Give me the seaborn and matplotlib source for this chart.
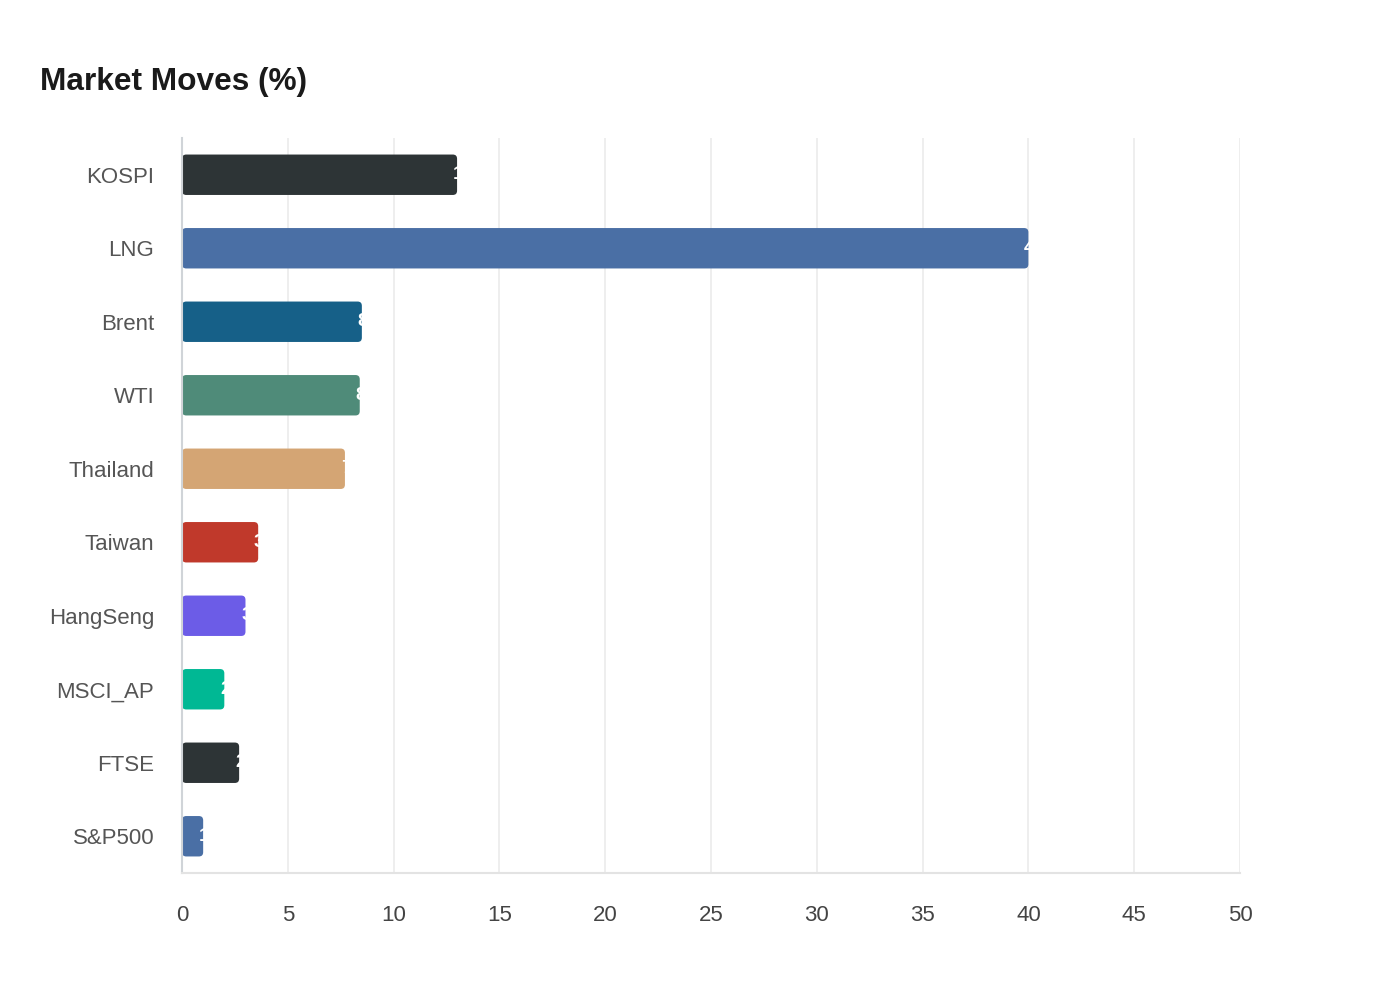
import matplotlib
matplotlib.use("Agg")
import matplotlib.pyplot as plt
from matplotlib.patches import FancyBboxPatch
import seaborn as sns
import pandas as pd

# data
markets = ["KOSPI", "LNG", "Brent", "WTI", "Thailand", "Taiwan",
           "HangSeng", "MSCI_AP", "FTSE", "S&P500"]
moves = [13.0, 40.0, 8.5, 8.4, 7.7, 3.6, 3.0, 2.0, 2.7, 1.0]
bar_colors = ["#2d3436", "#4a6fa5", "#166088", "#4f8b79", "#d4a574",
              "#c0392b", "#6c5ce7", "#00b894", "#2d3436", "#4a6fa5"]
x_ticks = [0, 5, 10, 15, 20, 25, 30, 35, 40, 45, 50]

df = pd.DataFrame({"market": markets, "move": moves})

sns.set_theme(style="white")
plt.rcParams["font.family"] = ["Liberation Sans", "DejaVu Sans"]

fig = plt.figure(figsize=(14, 10), dpi=100)
ax = fig.add_axes([0.13, 0.127, 0.7557, 0.735])

sns.barplot(data=df, y="market", x="move", hue="market", palette=bar_colors,
            legend=False, width=0.55, saturation=1, ax=ax)

# swap plain bars for slightly rounded ones
for p in list(ax.patches):
    x0, y0 = p.get_x(), p.get_y()
    w, h = p.get_width(), p.get_height()
    fc = p.get_facecolor()
    p.remove()
    ax.add_patch(FancyBboxPatch((x0, y0), w, h,
                                boxstyle="round,pad=0,rounding_size=0.2",
                                mutation_aspect=0.29, facecolor=fc,
                                edgecolor="none", zorder=2))

# value labels: white, starting just inside the bar end (mostly clipped on white)
for i, v in enumerate(moves):
    ax.annotate(f"{v:.1f}", xy=(v, i), xytext=(-3, 0), textcoords="offset points",
                ha="left", va="center", color="white", fontsize=14,
                fontweight="bold", zorder=3)

ax.set_xlim(0, 50)
ax.set_xticks(x_ticks)
ax.xaxis.grid(True, color="#ebebeb", linewidth=1.2, zorder=0)
ax.set_axisbelow(True)
ax.set_xlabel("")
ax.set_ylabel("")

for s in ["top", "right"]:
    ax.spines[s].set_visible(False)
ax.spines["left"].set_color("#d0d4d8")
ax.spines["left"].set_linewidth(1.5)
ax.spines["bottom"].set_color("#e3e3e3")
ax.spines["bottom"].set_linewidth(1.5)

ax.tick_params(axis="x", length=11, width=1.2, color="#ebebeb",
               labelsize=16, labelcolor="#444444", pad=12)
ax.tick_params(axis="y", length=0, labelsize=16, labelcolor="#555555", pad=20)

fig.text(0.0286, 0.910, "Market Moves (%)", fontsize=22.8, fontweight="bold",
         color="#1a1a1a", ha="left", va="baseline")

fig.savefig("out.png", dpi=100, facecolor="white")
